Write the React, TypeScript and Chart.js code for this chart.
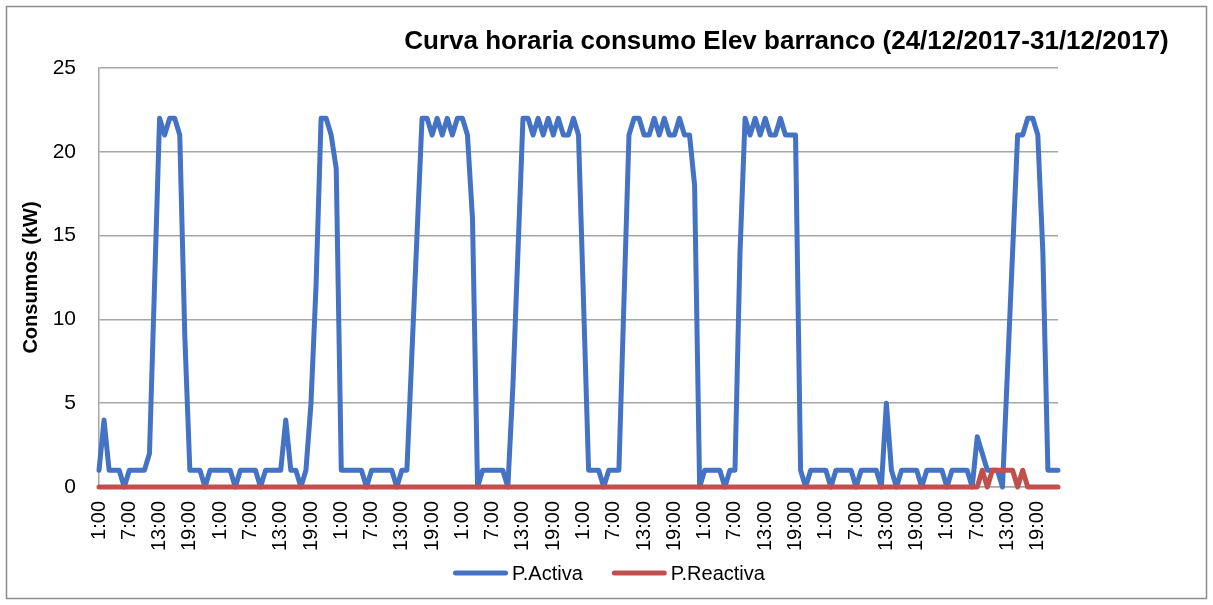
import React, { useEffect, useRef } from 'react';
import { Chart, registerables } from 'chart.js';

Chart.register(...registerables);

// Hour labels of each day (hourly readings, 1:00 ... 0:00)
const HOURS = [
  '1:00', '2:00', '3:00', '4:00', '5:00', '6:00', '7:00', '8:00', '9:00', '10:00', '11:00', '12:00',
  '13:00', '14:00', '15:00', '16:00', '17:00', '18:00', '19:00', '20:00', '21:00', '22:00', '23:00', '0:00',
];
const DAYS = ['24/12', '25/12', '26/12', '27/12', '28/12', '29/12', '30/12', '31/12'];

// P.Activa (kW), one array per day (last day ends at 23:00)
const ACTIVA_D1 = [1, 4, 1, 1, 1, 0, 1, 1, 1, 1, 2, 12, 22, 21, 22, 22, 21, 9, 1, 1, 1, 0, 1, 1];
const ACTIVA_D2 = [1, 1, 1, 0, 1, 1, 1, 1, 0, 1, 1, 1, 1, 4, 1, 1, 0, 1, 5, 12, 22, 22, 21, 19];
const ACTIVA_D3 = [1, 1, 1, 1, 1, 0, 1, 1, 1, 1, 1, 0, 1, 1, 8, 15, 22, 22, 21, 22, 21, 22, 21, 22];
const ACTIVA_D4 = [22, 21, 16, 0, 1, 1, 1, 1, 1, 0, 6, 14, 22, 22, 21, 22, 21, 22, 21, 22, 21, 21, 22, 21];
const ACTIVA_D5 = [11, 1, 1, 1, 0, 1, 1, 1, 11, 21, 22, 22, 21, 21, 22, 21, 22, 21, 21, 22, 21, 21, 18, 0];
const ACTIVA_D6 = [1, 1, 1, 1, 0, 1, 1, 14, 22, 21, 22, 21, 22, 21, 21, 22, 21, 21, 21, 1, 0, 1, 1, 1];
const ACTIVA_D7 = [1, 0, 1, 1, 1, 1, 0, 1, 1, 1, 1, 0, 5, 1, 0, 1, 1, 1, 1, 0, 1, 1, 1, 1];
const ACTIVA_D8 = [0, 1, 1, 1, 1, 0, 3, 2, 1, 1, 1, 0, 7, 14, 21, 21, 22, 22, 21, 14, 1, 1, 1];

// P.Reactiva (kVAr), one array per day
const REACTIVA_D1 = [0, 0, 0, 0, 0, 0, 0, 0, 0, 0, 0, 0, 0, 0, 0, 0, 0, 0, 0, 0, 0, 0, 0, 0];
const REACTIVA_D2 = [0, 0, 0, 0, 0, 0, 0, 0, 0, 0, 0, 0, 0, 0, 0, 0, 0, 0, 0, 0, 0, 0, 0, 0];
const REACTIVA_D3 = [0, 0, 0, 0, 0, 0, 0, 0, 0, 0, 0, 0, 0, 0, 0, 0, 0, 0, 0, 0, 0, 0, 0, 0];
const REACTIVA_D4 = [0, 0, 0, 0, 0, 0, 0, 0, 0, 0, 0, 0, 0, 0, 0, 0, 0, 0, 0, 0, 0, 0, 0, 0];
const REACTIVA_D5 = [0, 0, 0, 0, 0, 0, 0, 0, 0, 0, 0, 0, 0, 0, 0, 0, 0, 0, 0, 0, 0, 0, 0, 0];
const REACTIVA_D6 = [0, 0, 0, 0, 0, 0, 0, 0, 0, 0, 0, 0, 0, 0, 0, 0, 0, 0, 0, 0, 0, 0, 0, 0];
const REACTIVA_D7 = [0, 0, 0, 0, 0, 0, 0, 0, 0, 0, 0, 0, 0, 0, 0, 0, 0, 0, 0, 0, 0, 0, 0, 0];
const REACTIVA_D8 = [0, 0, 0, 0, 0, 0, 0, 1, 0, 1, 1, 1, 1, 1, 0, 1, 0, 0, 0, 0, 0, 0, 0];

const TITLE = 'Curva horaria consumo Elev barranco (24/12/2017-31/12/2017)';
const Y_TITLE = 'Consumos (kW)';
const SERIES_NAMES = ['P.Activa', 'P.Reactiva'];
const SERIES_COLORS = ['#4472C4', '#C0504D'];
const Y_TICKS = [0, 5, 10, 15, 20, 25];

const W = 1213;
const H = 605;
const FONT = "'Liberation Sans', Arial, sans-serif";

export default function App() {
  const ref = useRef<HTMLCanvasElement | null>(null);

  useEffect(() => {
    document.body.style.margin = '0';
    const canvas = ref.current;
    if (!canvas) return;

    const activa = [
      ...ACTIVA_D1, ...ACTIVA_D2, ...ACTIVA_D3, ...ACTIVA_D4,
      ...ACTIVA_D5, ...ACTIVA_D6, ...ACTIVA_D7, ...ACTIVA_D8,
    ];
    const reactiva = [
      ...REACTIVA_D1, ...REACTIVA_D2, ...REACTIVA_D3, ...REACTIVA_D4,
      ...REACTIVA_D5, ...REACTIVA_D6, ...REACTIVA_D7, ...REACTIVA_D8,
    ];
    const labels = DAYS.flatMap(() => HOURS).slice(0, activa.length);

    const frame = {
      id: 'frame',
      beforeDraw(chart: any) {
        const { ctx } = chart;
        ctx.save();
        ctx.fillStyle = '#ffffff';
        ctx.fillRect(0, 0, chart.width, chart.height);
        ctx.strokeStyle = '#8c8c8c';
        ctx.lineWidth = 1.5;
        ctx.strokeRect(6.5, 6.5, chart.width - 13, chart.height - 13);
        ctx.restore();
      },
      afterDraw(chart: any) {
        const { ctx } = chart;
        ctx.save();
        // title
        ctx.fillStyle = '#000000';
        ctx.font = `bold 26px ${FONT}`;
        ctx.textAlign = 'center';
        ctx.textBaseline = 'alphabetic';
        ctx.fillText(TITLE, 786.5, 48.5);
        // legend
        ctx.font = `20px ${FONT}`;
        ctx.textAlign = 'left';
        ctx.textBaseline = 'middle';
        const ly = 573;
        let x = 453;
        chart.data.datasets.forEach((ds: any, i: number) => {
          ctx.strokeStyle = ds.borderColor;
          ctx.lineWidth = 5;
          ctx.lineCap = 'round';
          ctx.beginPath();
          ctx.moveTo(x + 2.5, ly);
          ctx.lineTo(x + 52.5, ly);
          ctx.stroke();
          x += 59;
          ctx.fillStyle = '#000000';
          ctx.fillText(ds.label, x, ly + 1);
          x += ctx.measureText(ds.label).width + 29;
        });
        ctx.restore();
      },
    };

    Chart.defaults.font.family = FONT;
    Chart.defaults.color = '#000000';

    const chart = new Chart(canvas, {
      type: 'line',
      data: {
        labels,
        datasets: [
          {
            label: SERIES_NAMES[0],
            data: activa,
            borderColor: SERIES_COLORS[0],
            backgroundColor: SERIES_COLORS[0],
            borderWidth: 5,
            pointRadius: 0,
            tension: 0,
            borderJoinStyle: 'round',
            borderCapStyle: 'round',
            clip: 6,
            order: 2,
          },
          {
            label: SERIES_NAMES[1],
            data: reactiva,
            borderColor: SERIES_COLORS[1],
            backgroundColor: SERIES_COLORS[1],
            borderWidth: 5,
            pointRadius: 0,
            tension: 0,
            borderJoinStyle: 'round',
            borderCapStyle: 'round',
            clip: 6,
            order: 1,
          },
        ],
      },
      options: {
        responsive: false,
        animation: false,
        devicePixelRatio: 1,
        layout: { padding: { top: 68, left: 0, right: 0, bottom: 0 } },
        plugins: {
          title: { display: false },
          tooltip: { enabled: false },
          legend: { display: false },
        },
        scales: {
          x: {
            type: 'category',
            offset: false,
            grid: { display: false, drawTicks: false },
            border: { display: true, color: '#a6a6a6', width: 1.5 },
            ticks: {
              autoSkip: false,
              minRotation: 90,
              maxRotation: 90,
              padding: 14,
              font: { size: 20 },
              color: '#000000',
              callback: (_v: any, i: number) => (i % 6 === 0 ? HOURS[i % 24] : ''),
            },
            afterFit: (s: any) => {
              s.height = s.chart.height - 487;
            },
          },
          y: {
            type: 'linear',
            position: 'left',
            min: Y_TICKS[0],
            max: Y_TICKS[Y_TICKS.length - 1],
            grid: { color: '#a6a6a6', lineWidth: 1.5, drawTicks: false },
            border: { display: true, color: '#a6a6a6', width: 1.5 },
            ticks: {
              stepSize: 5,
              padding: 23,
              font: { size: 21 },
              color: '#000000',
            },
            title: {
              display: true,
              text: Y_TITLE,
              font: { size: 20, weight: 'bold' },
              color: '#000000',
              padding: { top: 19, bottom: 0 },
            },
            afterFit: (s: any) => {
              s.width = 99;
            },
          },
          yRight: {
            type: 'linear',
            position: 'right',
            display: true,
            grid: { display: false, drawTicks: false },
            border: { display: false },
            ticks: { display: false },
            afterFit: (s: any) => {
              s.width = W - 1058;
            },
          },
        },
      },
      plugins: [frame],
    } as any);

    return () => chart.destroy();
  }, []);

  return (
    <div style={{ width: W, height: H }}>
      <canvas ref={ref} width={W} height={H} style={{ display: 'block', width: W, height: H }} />
    </div>
  );
}
